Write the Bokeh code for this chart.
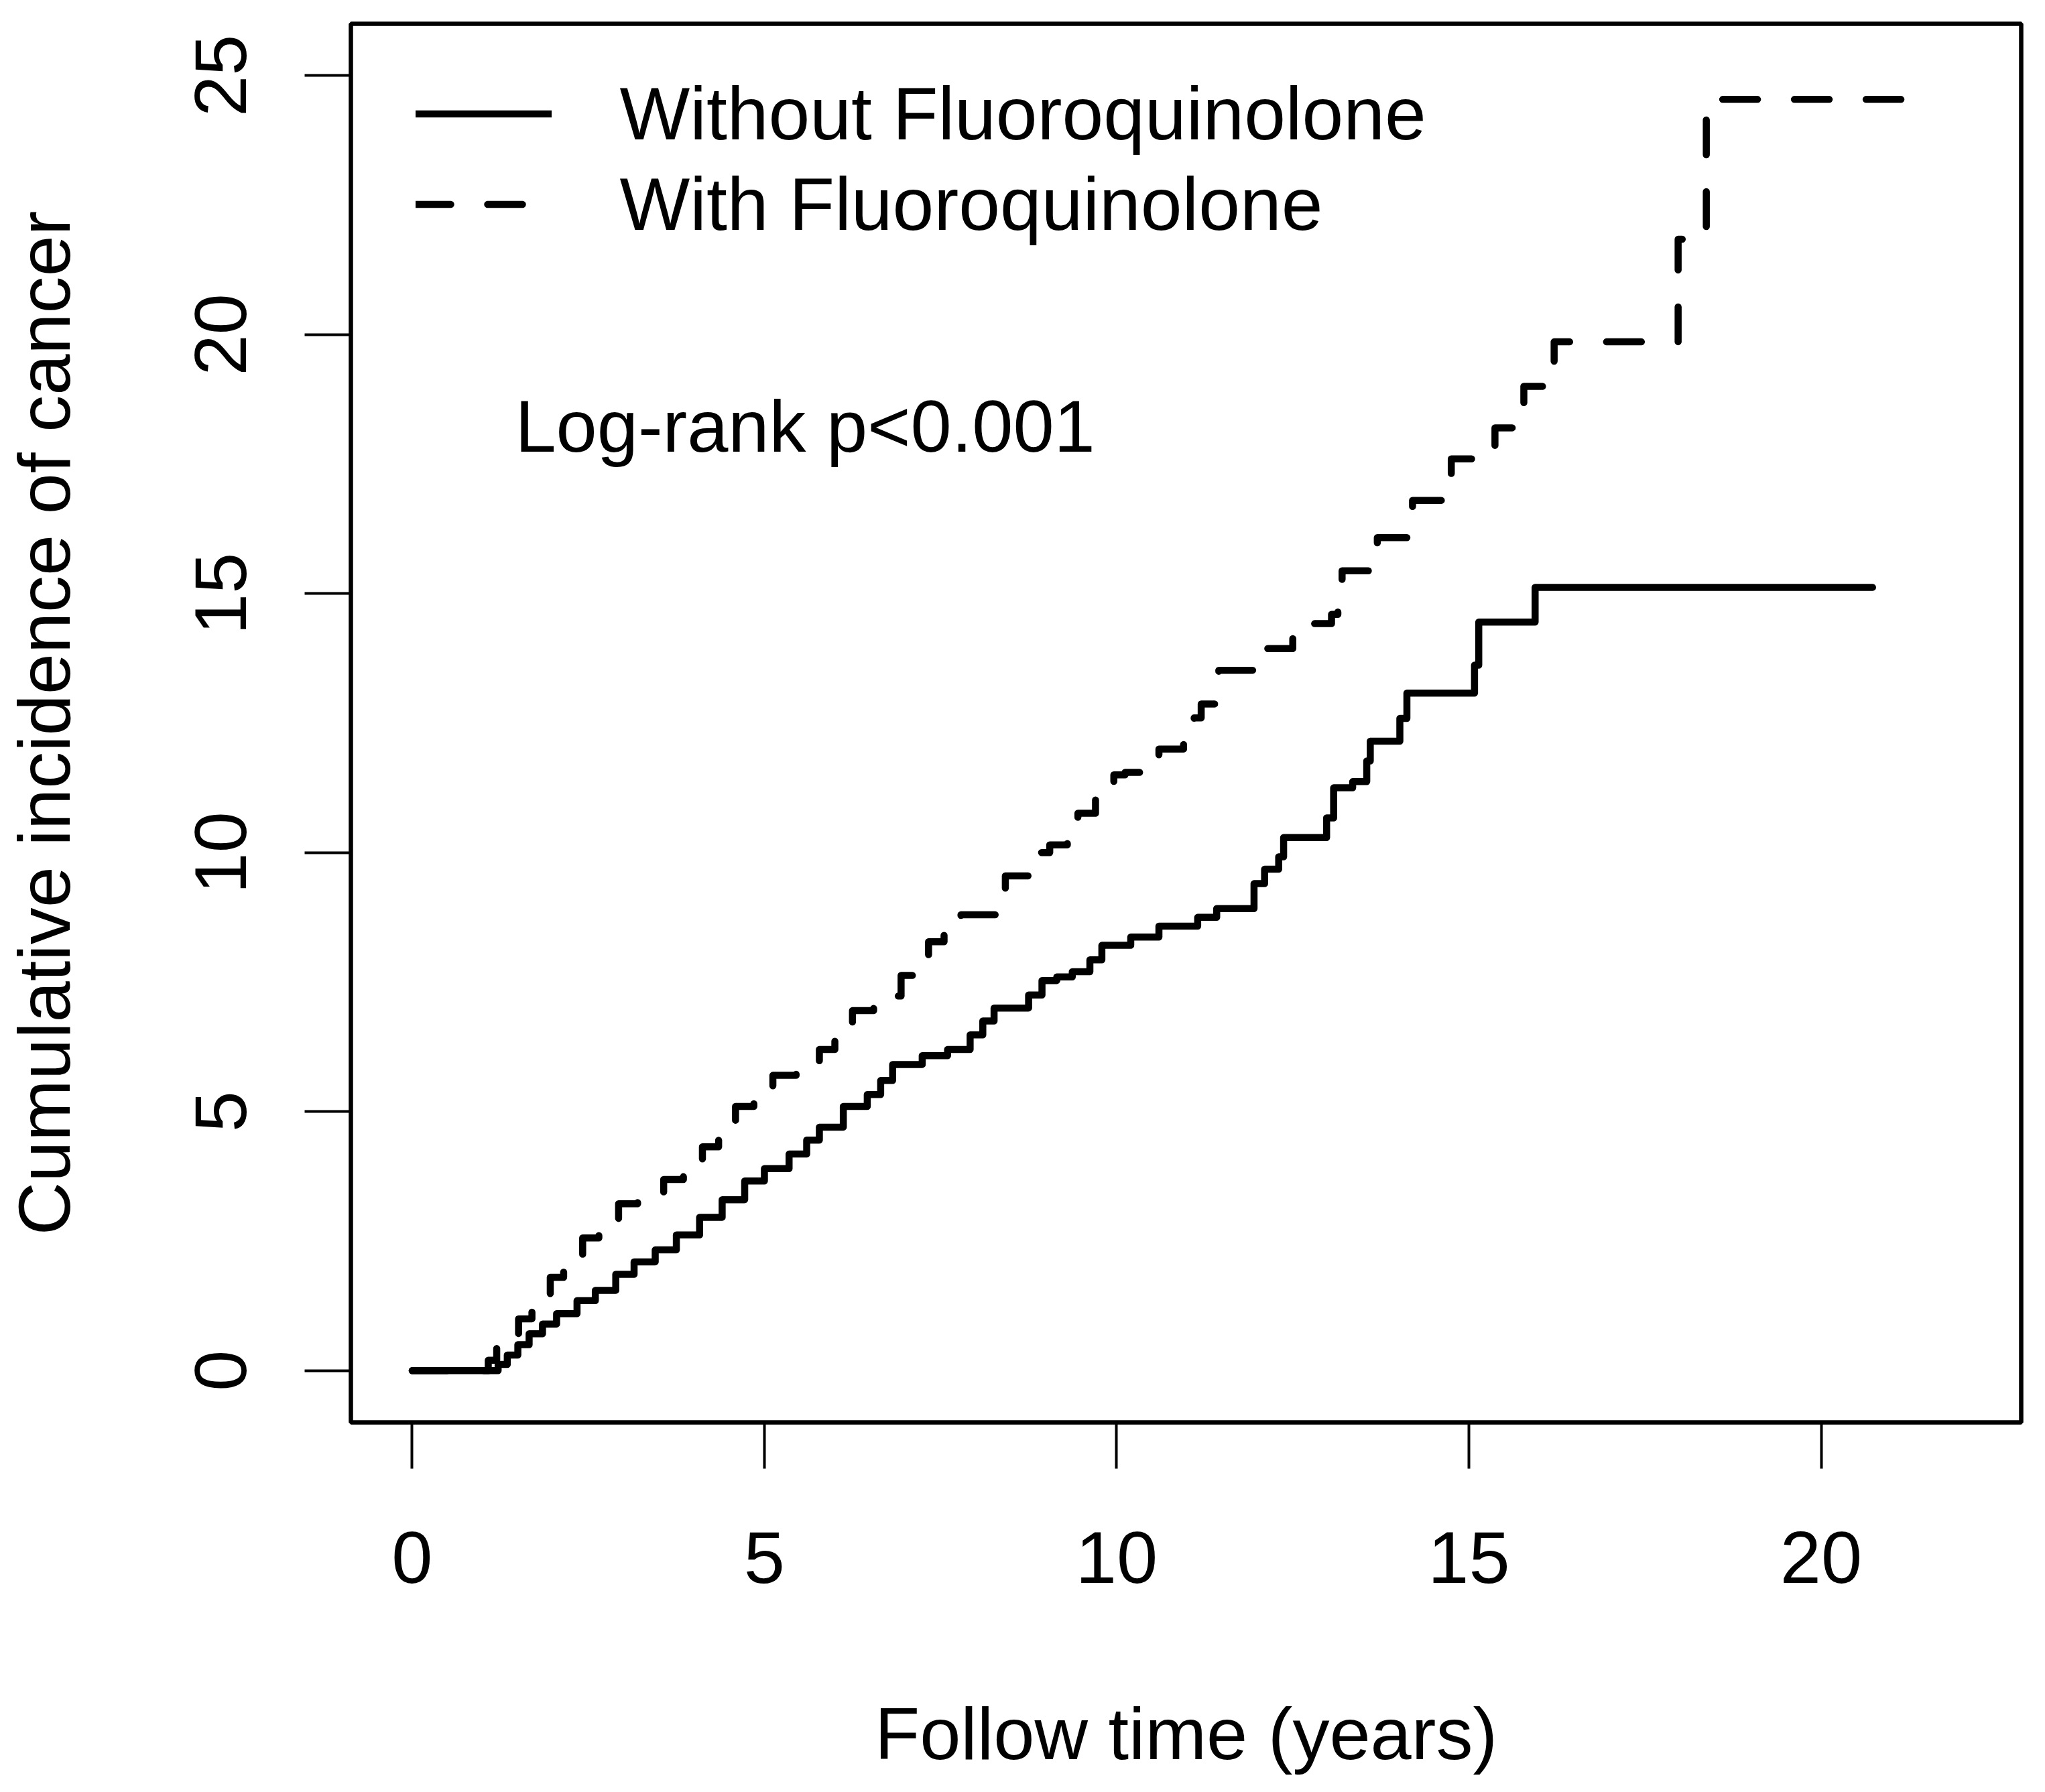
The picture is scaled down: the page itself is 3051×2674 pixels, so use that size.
from bokeh.plotting import figure
from bokeh.models import Range1d, Legend, LegendItem, Label, FixedTicker
from bokeh.embed import file_html
from bokeh.resources import INLINE

# ---- data (cumulative incidence, %) ----
without_time = [0, 1.22, 1.35, 1.5, 1.66, 1.85, 2.05, 2.34, 2.6, 2.89, 3.15, 3.45,
                3.75, 4.08, 4.4, 4.72, 5.0, 5.35, 5.6, 5.78, 6.12, 6.46, 6.65, 6.82,
                7.24, 7.6, 7.92, 8.1, 8.26, 8.75, 8.94, 9.15, 9.37, 9.62, 9.79, 10.2,
                10.6, 11.15, 11.42, 11.95, 12.1, 12.3, 12.37, 12.98, 13.08, 13.35,
                13.55, 13.6, 14.02, 14.12, 15.08, 15.14, 15.94, 20.73]
without_value = [0, 0.12, 0.3, 0.5, 0.71, 0.9, 1.1, 1.35, 1.55, 1.86, 2.1, 2.33,
                 2.62, 2.96, 3.3, 3.66, 3.9, 4.18, 4.45, 4.7, 5.1, 5.33, 5.6, 5.91,
                 6.08, 6.2, 6.48, 6.75, 7.0, 7.25, 7.53, 7.6, 7.7, 7.93, 8.21, 8.37,
                 8.58, 8.75, 8.92, 9.4, 9.68, 9.92, 10.29, 10.67, 11.25, 11.37,
                 11.77, 12.15, 12.59, 13.08, 13.62, 14.45, 15.12, 15.12]

with_time = [0, 1.08, 1.2, 1.35, 1.51, 1.7, 1.96, 2.15, 2.42, 2.65, 2.93, 3.2,
             3.57, 3.85, 4.12, 4.35, 4.59, 4.85, 5.12, 5.45, 5.78, 6.0, 6.25, 6.55,
             6.86, 6.94, 7.1, 7.33, 7.55, 7.79, 8.37, 8.42, 8.9, 9.05, 9.3, 9.45,
             9.7, 9.96, 10.12, 10.38, 10.6, 10.95, 11.1, 11.2, 11.4, 11.45, 12.03,
             12.5, 13.05, 13.14, 13.2, 13.65, 13.7, 14.15, 14.2, 14.68, 14.75,
             15.37, 15.78, 16.21, 17.97, 18.37, 21.3]
with_value = [0, 0.2, 0.45, 0.7, 1.0, 1.3, 1.8, 2.1, 2.56, 2.85, 3.22, 3.4,
              3.69, 4.0, 4.32, 4.7, 5.1, 5.4, 5.7, 5.95, 6.2, 6.55, 6.95, 7.1,
              7.23, 7.63, 7.95, 8.28, 8.5, 8.8, 9.2, 9.55, 10.0, 10.15, 10.5, 10.76,
              11.1, 11.5, 11.55, 11.86, 12.0, 12.33, 12.6, 12.87, 13.3, 13.52, 13.94,
              14.42, 14.6, 14.95, 15.44, 15.8, 16.08, 16.4, 16.8, 17.05, 17.6,
              18.2, 19.0, 19.86, 21.84, 24.54, 24.54]

x_ticks = [0, 5, 10, 15, 20]
y_ticks = [0, 5, 10, 15, 20, 25]
series_labels = ["Without Fluoroquinolone", "With Fluoroquinolone"]
x_title = "Follow time (years)"
y_title = "Cumulative incidence of cancer"
annotation_text = "Log-rank p<0.001"

FONT = "Liberation Sans"
FS = "110px"

p = figure(frame_width=2492, frame_height=2087,
           x_range=Range1d(-0.87, 22.84), y_range=Range1d(-1, 26),
           output_backend="svg", toolbar_location=None,
           min_border_left=518, min_border_top=35, min_border_right=25,
           min_border_bottom=536)

p.background_fill_color = "white"
p.border_fill_color = "white"
p.outline_line_color = "black"
p.outline_line_width = 6.5
p.grid.visible = False

for ax in (p.xaxis[0], p.yaxis[0]):
    ax.axis_line_color = None
    ax.major_tick_line_color = "black"
    ax.major_tick_line_width = 4
    ax.major_tick_in = 0
    ax.major_tick_out = 69
    ax.minor_tick_line_color = None
    ax.major_label_text_font = FONT
    ax.major_label_text_font_size = FS
    ax.major_label_text_color = "black"
    ax.axis_label_text_font = FONT
    ax.axis_label_text_font_size = FS
    ax.axis_label_text_font_style = "normal"
    ax.axis_label_text_color = "black"

p.xaxis[0].ticker = FixedTicker(ticks=x_ticks)
p.yaxis[0].ticker = FixedTicker(ticks=y_ticks)
p.xaxis[0].axis_label = x_title
p.yaxis[0].axis_label = y_title
p.xaxis[0].major_label_standoff = 94
p.xaxis[0].axis_label_standoff = 160
p.yaxis[0].major_label_orientation = "vertical"
p.yaxis[0].major_label_standoff = 87
p.yaxis[0].axis_label_standoff = 162

r1 = p.step(without_time, without_value, mode="after", line_color="black",
            line_width=10.5, line_join="round", line_cap="round")
r2 = p.step(with_time, with_value, mode="after", line_color="black",
            line_width=10.5, line_dash="52 55", line_join="round", line_cap="round")

legend = Legend(items=[LegendItem(label=series_labels[0], renderers=[r1]),
                       LegendItem(label=series_labels[1], renderers=[r2])],
                location=(96.5, 1750), padding=0, margin=0, spacing=0,
                glyph_width=203, glyph_height=135, label_height=135,
                label_standoff=102, label_text_font=FONT,
                label_text_font_size="111px", label_text_color="black",
                border_line_color=None, background_fill_alpha=0)
p.add_layout(legend)

p.add_layout(Label(x=1.46, y=18.24, text=annotation_text, text_font=FONT,
                   text_font_size=FS, text_color="black",
                   text_align="left", text_baseline="alphabetic"))

open("out.html", "w").write(file_html(p, INLINE))
